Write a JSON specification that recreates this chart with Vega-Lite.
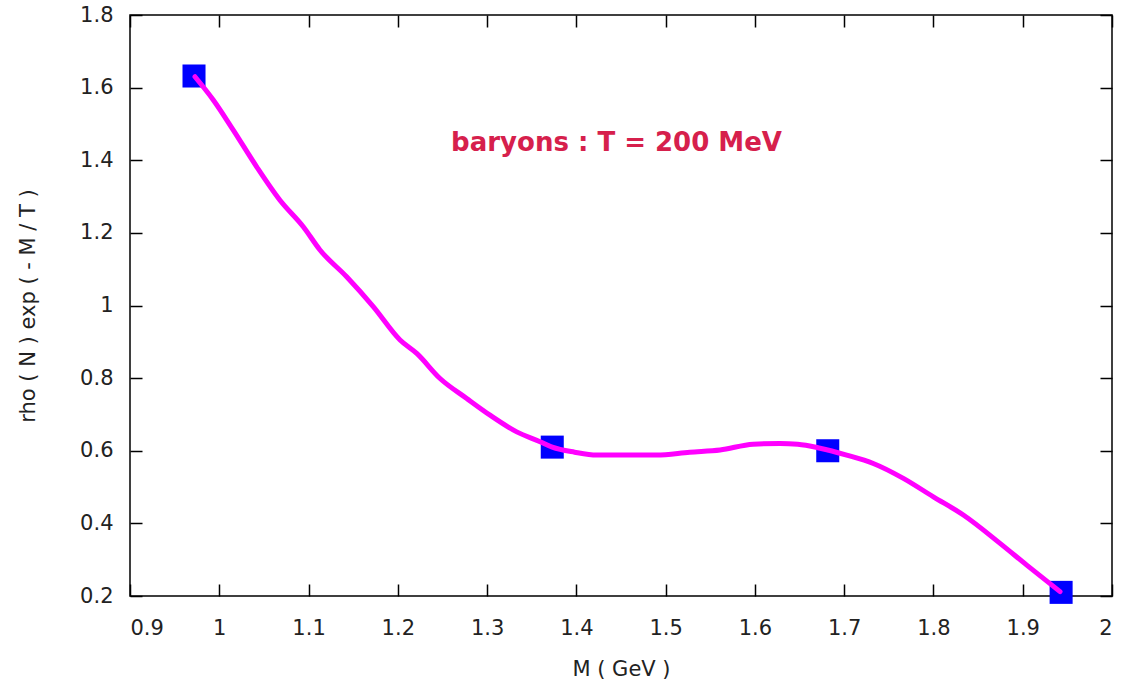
{
  "$schema": "https://vega.github.io/schema/vega-lite/v6.json",
  "width": 982,
  "height": 581,
  "autosize": "none",
  "padding": {"left": 130, "top": 15, "right": 12, "bottom": 89},
  "background": "white",
  "datasets": {
    "curve": [
      {"M": 0.9728, "v": 1.630},
      {"M": 0.9933, "v": 1.566},
      {"M": 1.0157, "v": 1.483},
      {"M": 1.0419, "v": 1.382},
      {"M": 1.068, "v": 1.290},
      {"M": 1.0941, "v": 1.217},
      {"M": 1.1128, "v": 1.153},
      {"M": 1.1427, "v": 1.079},
      {"M": 1.1725, "v": 0.997},
      {"M": 1.2025, "v": 0.905},
      {"M": 1.2212, "v": 0.868},
      {"M": 1.2473, "v": 0.799},
      {"M": 1.2772, "v": 0.744},
      {"M": 1.3033, "v": 0.698},
      {"M": 1.3332, "v": 0.652},
      {"M": 1.3593, "v": 0.625},
      {"M": 1.373, "v": 0.610},
      {"M": 1.398, "v": 0.596},
      {"M": 1.4228, "v": 0.588},
      {"M": 1.4545, "v": 0.588},
      {"M": 1.49, "v": 0.588},
      {"M": 1.527, "v": 0.596},
      {"M": 1.561, "v": 0.602},
      {"M": 1.598, "v": 0.618},
      {"M": 1.628, "v": 0.620},
      {"M": 1.648, "v": 0.618},
      {"M": 1.673, "v": 0.607},
      {"M": 1.7028, "v": 0.588},
      {"M": 1.7326, "v": 0.565},
      {"M": 1.7663, "v": 0.524},
      {"M": 1.7999, "v": 0.473},
      {"M": 1.8335, "v": 0.423},
      {"M": 1.8746, "v": 0.345},
      {"M": 1.9045, "v": 0.285},
      {"M": 1.9418, "v": 0.212}
    ],
    "points": [
      {"M": 0.9717, "v": 1.632},
      {"M": 1.373, "v": 0.610},
      {"M": 1.6816, "v": 0.600},
      {"M": 1.943, "v": 0.210}
    ],
    "label": [
      {"M": 1.445, "v": 1.447, "text": "baryons : T = 200 MeV"}
    ]
  },
  "config": {
    "view": {"stroke": "black", "strokeWidth": 1.5},
    "font": "DejaVu Sans",
    "axis": {
      "grid": false,
      "domain": false,
      "labelFont": "DejaVu Sans",
      "labelFontSize": 21,
      "labelColor": "#222",
      "titleFont": "DejaVu Sans",
      "titleFontSize": 21,
      "titleFontWeight": "normal",
      "titleColor": "#222",
      "tickColor": "black",
      "tickWidth": 1.5,
      "tickSize": -12,
      "format": "~g"
    }
  },
  "resolve": {"axis": {"x": "independent", "y": "independent"}},
  "layer": [
    {
      "data": {"name": "points"},
      "mark": {"type": "point", "shape": "square", "filled": true, "size": 530, "color": "#0000ff", "opacity": 1},
      "encoding": {
        "x": {"field": "M", "type": "quantitative", "scale": {"domain": [0.9, 2], "nice": false, "zero": false},
          "axis": {"orient": "bottom", "title": "M ( GeV )", "values": [0.9, 1, 1.1, 1.2, 1.3, 1.4, 1.5, 1.6, 1.7, 1.8, 1.9, 2], "labelPadding": 33, "titlePadding": 20}},
        "y": {"field": "v", "type": "quantitative", "scale": {"domain": [0.2, 1.8], "nice": false, "zero": false},
          "axis": {"orient": "left", "title": "rho ( N ) exp ( - M / T )", "values": [0.2, 0.4, 0.6, 0.8, 1, 1.2, 1.4, 1.6, 1.8], "labelPadding": 29, "titlePadding": 41}}
      }
    },
    {
      "data": {"name": "curve"},
      "mark": {"type": "line", "color": "#ff00ff", "strokeWidth": 5, "strokeCap": "round", "strokeJoin": "round", "interpolate": "monotone"},
      "encoding": {
        "x": {"field": "M", "type": "quantitative", "axis": {"orient": "top", "labels": false, "title": null, "values": [0.9, 1, 1.1, 1.2, 1.3, 1.4, 1.5, 1.6, 1.7, 1.8, 1.9, 2]}},
        "y": {"field": "v", "type": "quantitative", "axis": {"orient": "right", "labels": false, "title": null, "values": [0.2, 0.4, 0.6, 0.8, 1, 1.2, 1.4, 1.6, 1.8]}}
      }
    },
    {
      "data": {"name": "label"},
      "mark": {"type": "text", "font": "DejaVu Sans", "fontWeight": "bold", "fontSize": 26, "color": "#d6204c", "align": "center", "baseline": "middle"},
      "encoding": {
        "x": {"field": "M", "type": "quantitative", "axis": null},
        "y": {"field": "v", "type": "quantitative", "axis": null},
        "text": {"field": "text"}
      }
    }
  ]
}
